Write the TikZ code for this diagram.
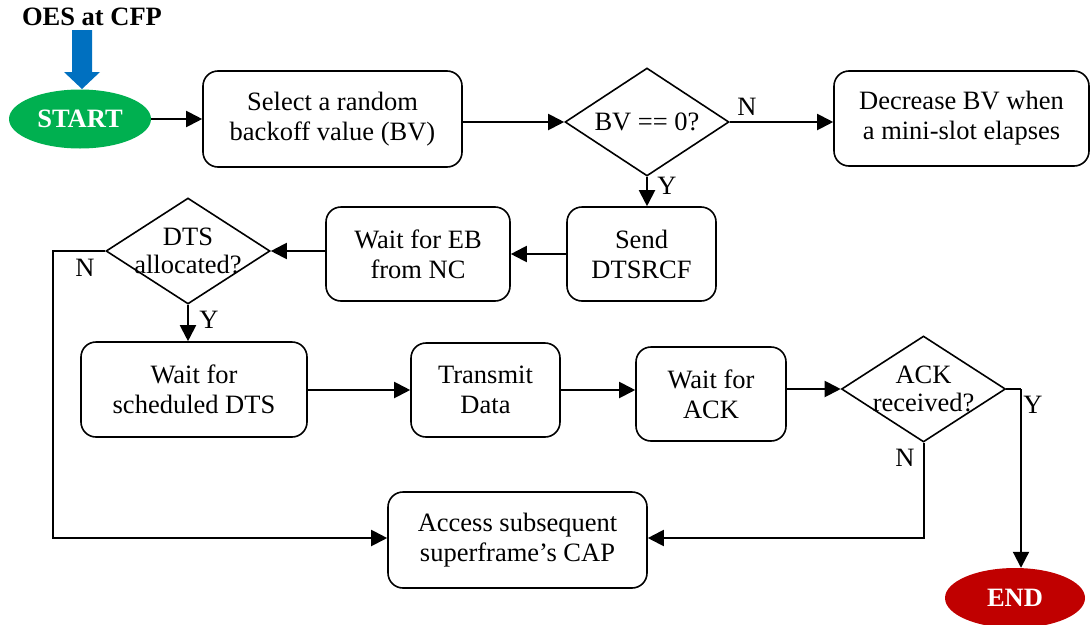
\documentclass[tikz,border=0pt]{standalone}
\usepackage{fontspec}
\setmainfont{Liberation Serif}
\usetikzlibrary{arrows.meta,shapes.geometric}
\definecolor{startgreen}{HTML}{00B050}
\definecolor{endred}{HTML}{C00000}
\definecolor{cfpblue}{HTML}{0070C0}
\begin{document}
\begin{tikzpicture}[x=1pt,y=-1pt,
  every node/.style={font=\fontsize{26.5}{30}\selectfont},
  box/.style={draw,line width=1.6pt,rounded corners=15pt,align=center,inner sep=0pt},
  decision/.style={draw,line width=1.6pt,diamond,aspect=1.5,align=center,inner sep=0pt},
  terminal/.style={ellipse,inner sep=0pt,text=white,font=\fontsize{26.5}{30}\selectfont\bfseries},
  flow/.style={line width=2pt,-{Triangle[length=16pt,width=16pt]}},
  plain/.style={line width=2pt},
  lbl/.style={inner sep=0pt}]
\useasboundingbox (0,0) rectangle (1091,624);

% terminals
\node[terminal,fill=startgreen,minimum width=142pt,minimum height=59pt] (start) at (80,119) {START};
\node[terminal,fill=endred,minimum width=140pt,minimum height=60pt] (end) at (1015,598) {END};
\node[lbl,font=\fontsize{26.5}{30}\selectfont\bfseries] (oes) at (92,17) {OES at CFP};

% blue entry arrow
\fill[cfpblue] (72,30) -- (92,30) -- (92,72) -- (100,72) -- (82,89) -- (64,72) -- (72,72) -- cycle;

% process boxes
\node[box,minimum width=259pt,minimum height=96pt] (select) at (332.5,119) {Select a random\\backoff value (BV)};
\node[box,minimum width=255pt,minimum height=95pt] (decr) at (961.5,118.5) {Decrease BV when\\a mini-slot elapses};
\node[box,minimum width=149pt,minimum height=94pt] (send) at (641.5,254) {Send\\DTSRCF};
\node[box,minimum width=184pt,minimum height=94pt] (waiteb) at (418,254) {Wait for EB\\from NC};
\node[box,minimum width=226pt,minimum height=95pt] (waitdts) at (194,389.5) {Wait for\\scheduled DTS};
\node[box,minimum width=149pt,minimum height=94pt] (tx) at (485.5,390) {Transmit\\Data};
\node[box,minimum width=150pt,minimum height=94pt] (waitack) at (711,394) {Wait for\\ACK};
\node[box,minimum width=259pt,minimum height=96pt] (access) at (517.5,540) {Access subsequent\\superframe’s CAP};

% decisions (shape and text placed separately so the text may overhang the outline)
\node[decision,minimum width=164pt,minimum height=108pt] (bv) at (647,122) {};
\node (bvtext) at (647,122) {BV == 0?};
\node[decision,minimum width=164pt,minimum height=106pt] (dts) at (188,251) {};
\node[align=center] (dtstext) at (188,251) {DTS\\[-2pt]allocated?};
\node[decision,minimum width=164pt,minimum height=106pt] (ack) at (923.5,389) {};
\node[align=center] (acktext) at (923.5,389) {ACK\\[-2pt]received?};

% connectors
\draw[flow] (start.east) -- (select.west |- start.east);
\draw[flow] (select.east |- bv.west) -- (bv.west);
\draw[flow] (bv.east) -- (decr.west |- bv.east);
\draw[flow] (bv.south) -- (send.north -| bv.south);
\draw[flow] (send.west) -- (waiteb.east);
\draw[flow] (waiteb.west |- dts.east) -- (dts.east);
\draw[flow] (dts.south) -- (waitdts.north -| dts.south);
\draw[flow] (waitdts.east |- tx.west) -- (tx.west);
\draw[flow] (tx.east) -- (waitack.west |- tx.east);
\draw[flow] (waitack.east |- ack.west) -- (ack.west);

% "no" branches into the access box
\coordinate (dtsturn) at (53,251);
\coordinate (dtsfoot) at (53,538);
\draw[flow] (dts.west) -- (dtsturn) -- (dtsfoot) -- (access.west |- dtsfoot);
\coordinate (ackfoot) at (923.5,538);
\draw[flow] (ack.south) -- (ackfoot) -- (access.east |- ackfoot);

% "yes" branch to END
\coordinate (ackturn) at (1021,389);
\draw[plain] (ack.east) -- (ackturn);
\draw[flow] (ackturn) -- (ackturn |- end.north);

% branch labels
\node[lbl] (nbv) at (747,107) {N};
\node[lbl] (ybv) at (667,186) {Y};
\node[lbl] (ndts) at (85,268) {N};
\node[lbl] (ydts) at (209,320) {Y};
\node[lbl] (nack) at (905,458) {N};
\node[lbl] (yack) at (1033,405) {Y};
\end{tikzpicture}
\end{document}
